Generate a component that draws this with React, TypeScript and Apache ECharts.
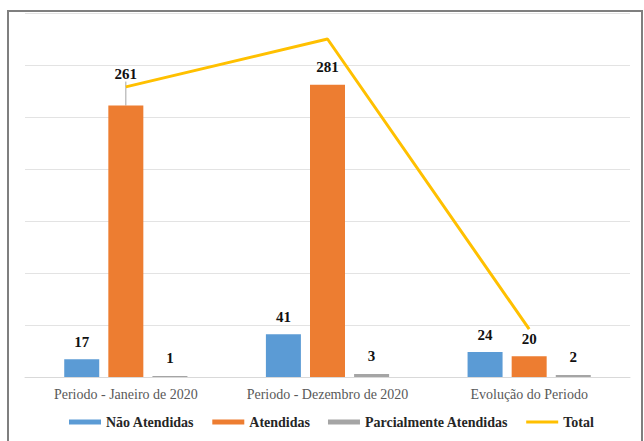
import React, { useEffect, useRef } from "react";
import * as echarts from "echarts";

const categories = ["Periodo - Janeiro de 2020", "Periodo - Dezembro de 2020", "Evolução do Periodo"];
const naoAtendidas = [17, 41, 24];
const atendidas = [261, 281, 20];
const parcialmente = [1, 3, 2];
const total = [279, 325, 46];

const SERIF = "'Liberation Serif'";

export default function App() {
  const ref = useRef<HTMLDivElement>(null);
  useEffect(() => {
    const chart = echarts.init(ref.current!, null, { renderer: "svg" });
    const labelStyle = {
      show: true,
      position: "top" as const,
      distance: 10,
      fontFamily: SERIF,
      fontWeight: "bold" as const,
      fontSize: 15,
      color: "#111",
    };
    chart.setOption({
      animation: false,
      backgroundColor: "#fff",
      textStyle: { fontFamily: SERIF },
      graphic: [
        {
          type: "rect",
          shape: { x: 8, y: 11, width: 634, height: 440 },
          style: { fill: "none", stroke: "#7f7f7f", lineWidth: 2 },
          silent: true,
        },
      ],
      grid: { left: 25, right: 14, top: 13, bottom: 64, containLabel: false },
      xAxis: {
        type: "category",
        data: categories,
        axisTick: { show: false },
        axisLine: { lineStyle: { color: "#d9d9d9" } },
        axisLabel: { interval: 0, fontFamily: SERIF, fontSize: 14, color: "#595959", margin: 10 },
      },
      yAxis: {
        type: "value",
        min: 0,
        max: 350,
        interval: 50,
        axisLabel: { show: false },
        axisLine: { show: false },
        axisTick: { show: false },
        splitLine: { lineStyle: { color: "#e3e3e3" } },
      },
      legend: {
        bottom: 7,
        left: 64,
        itemWidth: 32,
        itemHeight: 5,
        itemGap: 18,
        textStyle: { fontFamily: SERIF, fontWeight: "bold", fontSize: 14, color: "#262626" },
        data: [
          { name: "Não Atendidas", icon: "rect" },
          { name: "Atendidas", icon: "rect" },
          { name: "Parcialmente Atendidas", icon: "rect" },
          { name: "Total", icon: "path://M0,0 L31,0 L31,3 L0,3 Z" },
        ],
      },
      series: [
        {
          name: "Não Atendidas",
          type: "bar",
          data: naoAtendidas,
          barWidth: 35,
          barGap: "26%",
          itemStyle: { color: "#5b9bd5" },
          label: labelStyle,
        },
        {
          name: "Atendidas",
          type: "bar",
          data: atendidas.map((v, i) =>
            i === 0
              ? {
                  value: v,
                  labelLine: { show: true, lineStyle: { color: "#a5a5a5", width: 1 } },
                }
              : v
          ),
          barWidth: 35,
          itemStyle: { color: "#ed7d31" },
          label: labelStyle,
          labelLayout: (p: any) => (p.dataIndex === 0 ? { dy: -14 } : {}),
          labelLine: { show: false },
        },
        {
          name: "Parcialmente Atendidas",
          type: "bar",
          data: parcialmente,
          barWidth: 35,
          itemStyle: { color: "#a5a5a5" },
          label: labelStyle,
        },
        {
          name: "Total",
          type: "line",
          data: total,
          symbol: "none",
          lineStyle: { color: "#ffc000", width: 3 },
          itemStyle: { color: "#ffc000" },
          z: 5,
        },
      ],
    });
    return () => chart.dispose();
  }, []);
  return (
    <div
      ref={ref}
      style={{ position: "absolute", left: 0, top: 0, width: 644, height: 441 }}
    />
  );
}
